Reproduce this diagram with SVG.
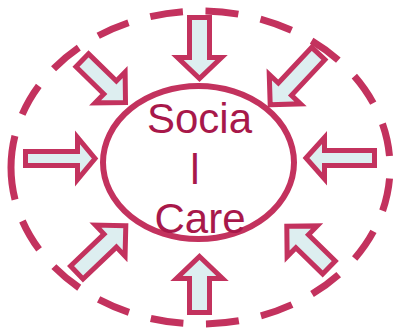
<svg xmlns="http://www.w3.org/2000/svg" width="395" height="332" viewBox="0 0 395 332">
  <style>
    .outer { fill: none; stroke: #C3325E; stroke-width: 7; stroke-dasharray: 33 22.66; stroke-dashoffset: 1; }
    .inner { fill: #FFFFFF; stroke: #C3325E; stroke-width: 6; }
    .arr { fill: #DDEEF0; stroke: #C3325E; stroke-width: 5; stroke-linejoin: miter; stroke-miterlimit: 10; }
    .lbl { font-family: "Liberation Sans", Arial, sans-serif; font-size: 42px; fill: #A8184A; text-anchor: middle; }
  </style>
  <rect width="395" height="332" fill="#FFFFFF"/>
  <g id="outer-ring">
    <path class="outer" d="M 11,167.5 A 189.5,156.5 0 0 1 390,167.5 A 189.5,156.5 0 0 1 11,167.5"/>
  </g>
  <g id="connectors">
    <polygon class="arr" points="189.5,17.5 209.5,17.5 209.5,57.5 221.5,57.5 199.5,78.5 177.5,57.5 189.5,57.5"/>
    <polygon class="arr" points="199.5,256.5 222.5,278.5 209.5,278.5 209.5,312.5 189.5,312.5 189.5,278.5 176.5,278.5"/>
    <polygon class="arr" points="25.5,151.5 77.5,151.5 77.5,137.5 95,158.5 77.5,179.5 77.5,165.5 25.5,165.5"/>
    <polygon class="arr" points="306,158 324.5,137.5 324.5,150.5 374.5,150.5 374.5,165.5 324.5,165.5 324.5,179"/>
    <path class="arr" transform="translate(125.5,102.5) rotate(44.3)" d="M0,0 L-21.5,-21.5 L-21.5,-9 L-60.4,-9 L-60.4,9 L-21.5,9 L-21.5,21.5 Z"/>
    <path class="arr" transform="translate(270.2,104.8) rotate(133.2)" d="M0,0 L-21.5,-21.5 L-21.5,-9 L-70.3,-9 L-70.3,9 L-21.5,9 L-21.5,21.5 Z"/>
    <path class="arr" transform="translate(125.8,225.8) rotate(-43.6)" d="M0,0 L-21.5,-21.5 L-21.5,-9 L-67.7,-9 L-67.7,9 L-21.5,9 L-21.5,21.5 Z"/>
    <path class="arr" transform="translate(286.8,226.2) rotate(-135.6)" d="M0,0 L-21.5,-21.5 L-21.5,-9 L-59,-9 L-59,9 L-21.5,9 L-21.5,21.5 Z"/>
  </g>
  <g id="social-care">
    <ellipse class="inner" cx="198.5" cy="162.5" rx="95.5" ry="76.5"/>
    <text class="lbl" x="199.5" y="133">Socia</text>
    <text class="lbl" x="195" y="184">l</text>
    <text class="lbl" x="200" y="233">Care</text>
  </g>
</svg>
